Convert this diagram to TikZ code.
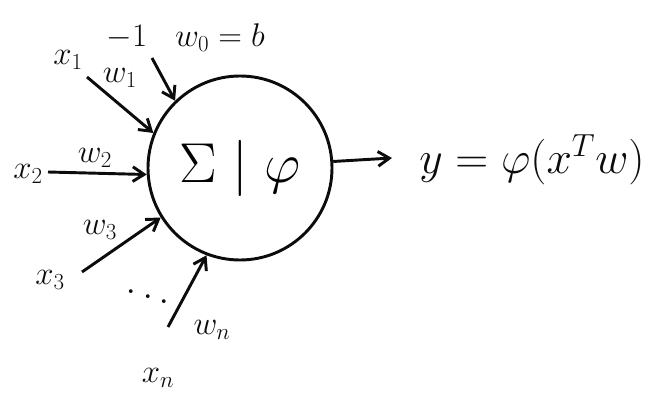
\RequirePackage{fix-cm}
\documentclass[tikz,border=0pt]{standalone}
\usepackage{tikz}
\usetikzlibrary{arrows.meta,positioning}
\definecolor{ink}{RGB}{12,12,12}
\tikzset{
  >={Straight Barb[length=3.4mm,width=4.4mm]},
  neuron/.style={circle,draw=ink,line width=2.5pt,minimum size=55.2mm,inner sep=0pt,
    font=\fontsize{48}{52}\selectfont},
  flow/.style={->,line width=2.5pt,draw=#1},
  flow/.default=ink,
  lbl/.style={font=\fontsize{28}{32}\selectfont,text=ink,inner sep=1pt},
  result/.style={font=\fontsize{39}{44}\selectfont,text=ink,inner sep=1pt},
}

\begin{document}
\begin{tikzpicture}[x=0.03cm,y=-0.03cm]
        \useasboundingbox (0,0) rectangle (667,401);
        \node[neuron] (neuron) at (240,168) {$\Sigma\;\Bigg|\;\varphi$};
        % inputs and weights
        \node[lbl] (x1) at (68,60) {$x_1$};
        \node[lbl] (w1) at (120,78) {$w_1$};
        \node[lbl] (bias) at (127,37) {$-1$};
        \node[lbl] (w0) at (220,38) {$w_0=b$};
        \node[lbl] (x2) at (28,174) {$x_2$};
        \node[lbl] (w2) at (95,158) {$w_2$};
        \node[lbl] (w3) at (100,230) {$w_3$};
        \node[lbl] (x3) at (50,280) {$x_3$};
        \node[lbl,scale=1.4] (dots) at (148,292) {$\ddots$};
        \node[lbl] (wn) at (212,330) {$w_n$};
        \node[lbl] (xn) at (158,378) {$x_n$};
        \coordinate (tx1) at (87,77);
        \coordinate (tb) at (152,58);
        \coordinate (tx2) at (48,172);
        \coordinate (tx3) at (82,272);
        \coordinate (txn) at (168,327);
        \foreach \t/\a in {tx1/158,tb/134,tx2/184,tx3/212,txn/249}
          \draw[flow] (\t) -- (neuron.\a);
        % output
        \node[result] (out) at (532,160) {$y=\varphi(x^{T}w)$};
        \coordinate (yend) at (392,158);
        \draw[flow] (neuron.4) -- (yend);
      \end{tikzpicture}
\end{document}
